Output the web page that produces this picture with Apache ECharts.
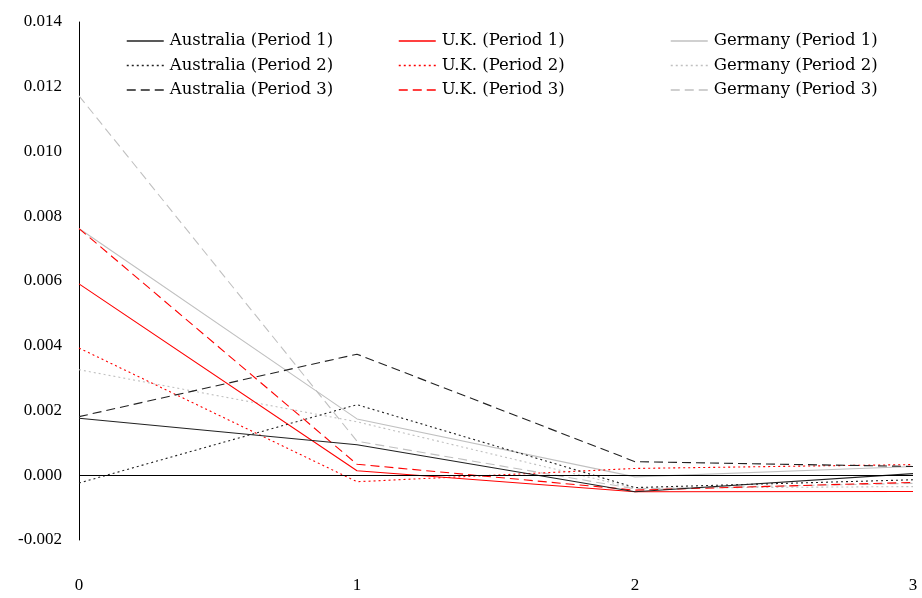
<!DOCTYPE html>
<html>
<head>
<meta charset="utf-8">
<script src="https://cdn.jsdelivr.net/npm/echarts@6/dist/echarts.min.js"></script>
<style>html,body{margin:0;padding:0;background:#fff;}#c{width:922px;height:598px;}</style>
</head>
<body>
<div id="c"></div>
<script>
var xValues = [0, 1, 2, 3];
var ausP1 = [0.00176, 0.00094, -0.00051, 0.00005];
var ausP2 = [-0.00024, 0.00218, -0.00038, -0.00014];
var ausP3 = [0.00181, 0.00374, 0.00042, 0.00027];
var ukP1 = [0.00591, 0.00014, -0.00051, -0.00050];
var ukP2 = [0.00393, -0.00020, 0.00021, 0.00033];
var ukP3 = [0.00762, 0.00034, -0.00046, -0.00022];
var gerP1 = [0.00762, 0.00174, -0.00005, 0.00027];
var gerP2 = [0.00326, 0.00165, -0.00040, -0.00035];
var gerP3 = [0.01172, 0.00105, -0.00042, -0.00025];
var yTickLabels = ['-0.002','0.000','0.002','0.004','0.006','0.008','0.010','0.012','0.014'];
var xTickLabels = ['0','1','2','3'];

var FONT = "'Liberation Serif', 'Times New Roman', serif";
var LFONT = "'DejaVu Serif', serif";
var DOT = [2, 3];
var DASH = [9, 5];
function pairs(arr){ return xValues.map(function(x,i){ return [x, arr[i]]; }); }
function mk(name, arr, color, type){
  return {name:name, type:'line', data:pairs(arr), symbol:'none', animation:false,
    lineStyle:{color:color, width:1.1, type:type}, itemStyle:{color:color}};
}
var BLACK = '#222222', RED = '#ff0000', GREY = '#c0c0c0';
var series = [
  mk('Germany (Period 1)', gerP1, GREY, 'solid'),
  mk('Germany (Period 2)', gerP2, GREY, DOT),
  mk('Germany (Period 3)', gerP3, GREY, DASH),
  mk('U.K. (Period 1)', ukP1, RED, 'solid'),
  mk('U.K. (Period 2)', ukP2, RED, DOT),
  mk('U.K. (Period 3)', ukP3, RED, DASH),
  mk('Australia (Period 1)', ausP1, BLACK, 'solid'),
  mk('Australia (Period 2)', ausP2, BLACK, DOT),
  mk('Australia (Period 3)', ausP3, BLACK, DASH)
];
series[0].markLine = {silent:true, symbol:'none', animation:false, label:{show:false},
  lineStyle:{color:'#000', width:1, type:'solid'}, data:[{yAxis:0}]};

function lg(left, names){
  return {show:true, orient:'vertical', left:left, top:27, itemWidth:37, itemHeight:14, itemGap:6.5,
    data:names, selectedMode:false,
    itemStyle:{opacity:0},
    lineStyle:{width:1.5},
    textStyle:{fontFamily:LFONT, fontSize:16.5, lineHeight:18, color:'#000', padding:[0,0,0,1]}};
}
var chart = echarts.init(document.getElementById('c'), null, {renderer:'canvas'});
chart.setOption({
  animation:false,
  backgroundColor:'#fff',
  grid:{left:79, right:9, top:22, bottom:58},
  legend:[
    lg(121, ['Australia (Period 1)','Australia (Period 2)','Australia (Period 3)']),
    lg(393, ['U.K. (Period 1)','U.K. (Period 2)','U.K. (Period 3)']),
    lg(665, ['Germany (Period 1)','Germany (Period 2)','Germany (Period 3)'])
  ],
  xAxis:{type:'value', min:0, max:3, interval:1,
    axisLine:{show:false}, axisTick:{show:false}, splitLine:{show:false},
    axisLabel:{margin:37, fontFamily:FONT, fontSize:17, color:'#000',
      formatter:function(v){ return xTickLabels[Math.round(v)]; }}},
  yAxis:{type:'value', min:-0.002, max:0.014, interval:0.002,
    axisLine:{show:true, lineStyle:{color:'#000', width:1}}, axisTick:{show:false}, splitLine:{show:false},
    axisLabel:{margin:17, fontFamily:FONT, fontSize:17, color:'#000',
      formatter:function(v){ return yTickLabels[Math.round((v + 0.002)/0.002)]; }}},
  series:series
});
</script>
</body>
</html>
